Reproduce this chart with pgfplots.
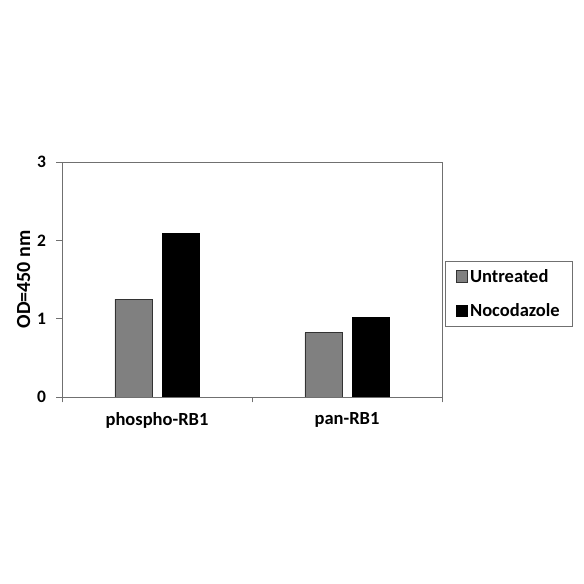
\documentclass[border=0pt]{standalone}
\usepackage{fontspec}
\setmainfont{Carlito}
\usepackage{pgfplots}
\pgfplotsset{compat=1.18}
\definecolor{untr}{HTML}{808080}
\definecolor{axgray}{HTML}{707070}
\begin{document}
\begin{tikzpicture}
\useasboundingbox (0,0) rectangle (584pt,584pt);
\fill[white] (0,0) rectangle (584pt,584pt);
\begin{axis}[
  at={(62pt,187pt)}, anchor=south west,
  scale only axis, width=380pt, height=235pt,
  xmin=-0.5, xmax=1.5, ymin=0, ymax=3,
  xtick={-0.5,0.5,1.5},
  x tick label as interval,
  xticklabels={phospho-RB1,pan-RB1},
  ytick={0,1,2,3},
  tick align=outside,
  major tick length=5.5pt,
  axis line style={axgray, line width=0.9pt},
  every tick/.style={axgray, line width=0.9pt},
  tick pos=left,
  font=\fontsize{18.5}{22}\selectfont\bfseries,
  /pgf/number format/assume math mode=true,
  ylabel={OD=450 nm},
  ylabel style={font=\fontsize{20}{24}\selectfont\bfseries},
  xticklabel style={yshift=-6pt},
  yticklabel style={xshift=-7pt, font=\fontsize{17.5}{21}\selectfont\bfseries},
  legend style={at={(1.008,0.579)}, anchor=north west,
    draw=axgray, line width=0.9pt,
    font=\fontsize{18.5}{22}\selectfont\bfseries,
    row sep=16pt, inner xsep=11pt, inner ysep=6pt},
  legend cell align=left,
  legend image code/.code={\draw[#1, line width=0.6pt] (0pt,-5.5pt) rectangle (11pt,6pt);},
]
\addplot[ybar, bar width=0.195, bar shift=-0.124, fill=untr, draw=black!80, line width=0.8pt] coordinates {(0,1.25) (1,0.82)};
\addplot[ybar, bar width=0.195, bar shift=0.124, fill=black, draw=black, line width=0.8pt] coordinates {(0,2.09) (1,1.01)};
\legend{Untreated,Nocodazole}
\end{axis}
\end{tikzpicture}
\end{document}
